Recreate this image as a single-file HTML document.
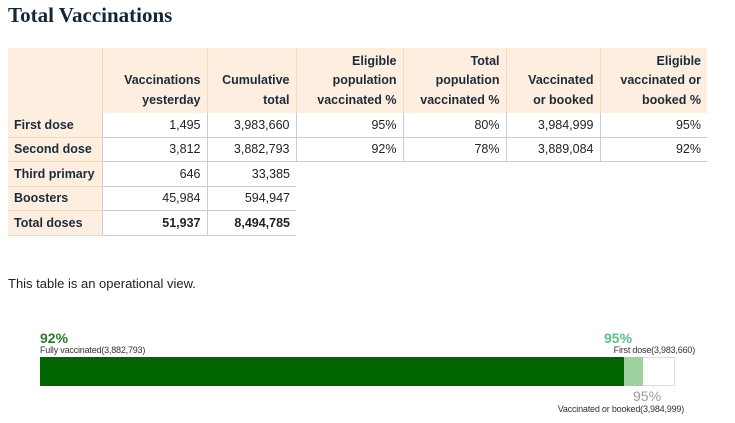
<!DOCTYPE html>
<html><head><meta charset="utf-8"><style>
body{margin:0;width:735px;height:423px;background:#fff;font-family:"Liberation Sans",Arial,sans-serif;position:relative;overflow:hidden}
h1{position:absolute;left:8px;top:3px;margin:0;font-family:"Liberation Serif",serif;font-size:21px;font-weight:bold;color:#142536}
table{position:absolute;left:8px;top:48px;border-collapse:collapse;font-size:12.5px;color:#222}
td,th{padding:0 6px;text-align:right;white-space:nowrap}
th{background:#fdeee0;font-weight:bold;color:#1c2b3a;vertical-align:bottom;line-height:19.5px;padding-bottom:3px;border-left:1px solid #f5d9bf;height:62px}
tbody td{height:23.5px;border-bottom:1px solid #ccc;border-left:1px solid #ccc}
tbody td:first-child{background:#fdeee0;text-align:left;font-weight:bold;color:#1c2b3a;border-left:none;border-bottom:1px solid #f5d9bf}
th:first-child{border-left:none}
.b{font-weight:bold}
.e{border:none!important;background:#fff!important}
.note{position:absolute;left:8px;top:276px;font-size:13px;color:#222}
</style></head><body>
<h1>Total Vaccinations</h1>
<table>
<colgroup><col style="width:94px"><col style="width:105px"><col style="width:89px"><col style="width:107px"><col style="width:103px"><col style="width:94px"><col style="width:107px"></colgroup>
<thead><tr><th></th><th>Vaccinations<br>yesterday</th><th>Cumulative<br>total</th><th>Eligible<br>population<br>vaccinated %</th><th>Total<br>population<br>vaccinated %</th><th>Vaccinated<br>or booked</th><th>Eligible<br>vaccinated or<br>booked %</th></tr></thead>
<tbody>
<tr><td>First dose</td><td>1,495</td><td>3,983,660</td><td>95%</td><td>80%</td><td>3,984,999</td><td>95%</td></tr>
<tr><td>Second dose</td><td>3,812</td><td>3,882,793</td><td>92%</td><td>78%</td><td>3,889,084</td><td>92%</td></tr>
<tr><td>Third primary</td><td>646</td><td>33,385</td><td class="e"></td><td class="e"></td><td class="e"></td><td class="e"></td></tr>
<tr><td>Boosters</td><td>45,984</td><td>594,947</td><td class="e"></td><td class="e"></td><td class="e"></td><td class="e"></td></tr>
<tr><td>Total doses</td><td class="b">51,937</td><td class="b">8,494,785</td><td class="e"></td><td class="e"></td><td class="e"></td><td class="e"></td></tr>
</tbody></table>
<div class="note">This table is an operational view.</div>
<div id="bar"></div>
<script>
const labels=["Fully vaccinated","First dose","Vaccinated or booked"];
const counts=[3882793,3983660,3984999];
const pcts=[92,95,95];
const X0=40,X1=675,Y=357,H=29;
function sx(p){return X0+(X1-X0)*p/100;}
const root=document.getElementById('bar');
function mk(css,text){const d=document.createElement('div');d.style.cssText=css;if(text)d.textContent=text;root.appendChild(d);return d;}
const track=mk(`position:absolute;left:${X0}px;top:${Y}px;width:${X1-X0-2}px;height:${H-2}px;border:1px solid #ddd;background:#fff`);


const s2=mk(`position:absolute;left:${X0}px;top:${Y}px;width:${sx(pcts[1])-X0}px;height:${H}px;background:#9fd09f`);


const s1=mk(`position:absolute;left:${X0}px;top:${Y}px;width:${sx(pcts[0])-X0}px;height:${H}px;background:#006400`);


const fmt=n=>n.toLocaleString('en-US');
let e;
e=mk('position:absolute;left:40px;top:330px;font-size:14px;font-weight:bold;color:#2a7a2a',pcts[0]+'%');


e=mk('position:absolute;left:40px;top:345px;font-size:9px;color:#333;letter-spacing:-0.2px',labels[0]+'('+fmt(counts[0])+')');


e=mk('position:absolute;left:604px;top:330px;font-size:14px;font-weight:bold;color:#5cc08a',pcts[1]+'%');


e=mk('position:absolute;right:40px;top:345px;font-size:9px;color:#333;letter-spacing:-0.2px',labels[1]+'('+fmt(counts[1])+')');


e=mk('position:absolute;left:633px;top:388px;font-size:14px;color:#999',pcts[2]+'%');


e=mk('position:absolute;right:51px;top:404px;font-size:9px;color:#333;letter-spacing:-0.2px',labels[2]+'('+fmt(counts[2])+')');


</script>
</body></html>
